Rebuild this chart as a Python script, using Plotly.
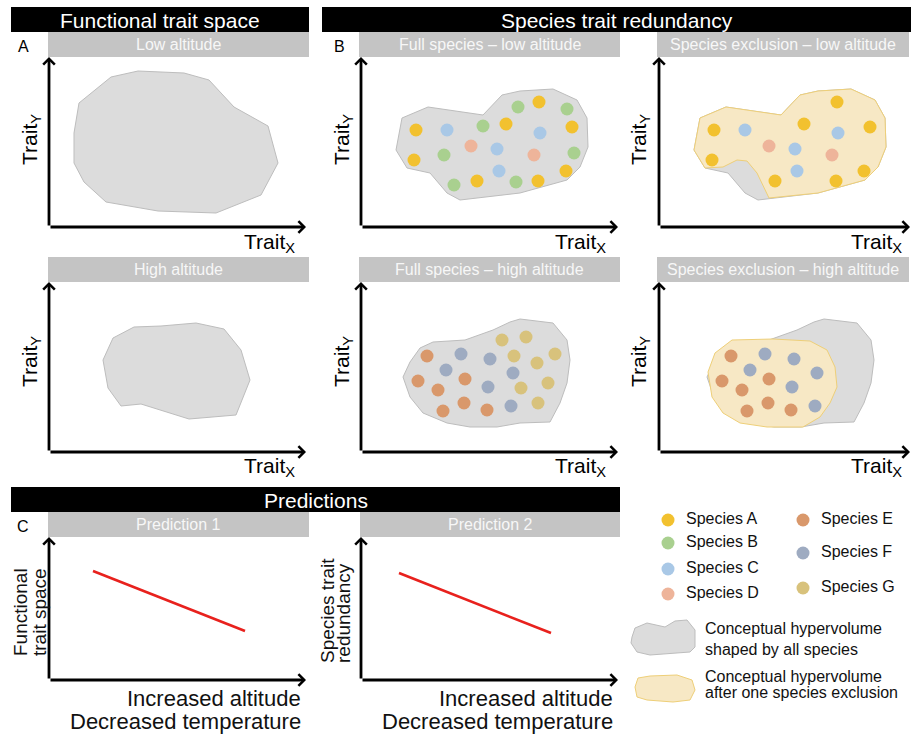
import plotly.graph_objects as go

FIG_W, FIG_H = 913, 737
FONT = "Arial, 'Liberation Sans', Helvetica, sans-serif"

# ---------------- data (trait-space units) ----------------
# Functional trait space hulls (panel A)
hull_A_low_x = [30, 62, 89, 135, 160, 185, 219, 229, 212, 192, 167, 109, 57, 35, 25, 25, 30]
hull_A_low_y = [124, 150, 156, 154, 147, 120, 101, 64, 32, 24, 14, 16, 25, 45, 64, 94, 124]
hull_A_high_x = [54, 64, 85, 112, 147, 175, 192, 201, 187, 140, 92, 72, 59, 54]
hull_A_high_y = [92, 114, 125, 126, 129, 123, 102, 72, 37, 33, 48, 46, 64, 92]

# Hypervolumes shaped by all species (panel B)
hull_low_x = [41, 67, 122, 141, 159, 192, 216, 226, 227, 219, 206, 159, 99, 86, 69, 46, 35, 41]
hull_low_y = [109, 120, 112, 132, 136, 138, 127, 109, 80, 60, 47, 34, 27, 34, 54, 59, 77, 109]
hull_high_x = [59, 72, 104, 132, 149, 159, 192, 206, 209, 206, 199, 189, 159, 136, 109, 86, 62, 49, 42, 49, 59]
hull_high_y = [104, 110, 112, 122, 130, 133, 129, 112, 92, 69, 49, 30, 29, 25, 25, 29, 39, 55, 75, 90, 104]

# Hypervolumes after one species exclusion
excl_low_x = [35, 41, 67, 122, 141, 159, 192, 216, 226, 227, 219, 206, 159, 110, 98, 88, 78, 64, 46, 35]
excl_low_y = [77, 109, 120, 112, 132, 136, 138, 127, 109, 80, 60, 47, 34, 29, 54, 66, 67, 60, 59, 77]
excl_high_x = [43, 50, 67, 108, 145, 162, 170, 172, 165, 155, 138, 102, 75, 58, 47, 43]
excl_high_y = [80, 99, 112, 113, 111, 102, 85, 65, 49, 35, 25, 25, 29, 39, 55, 80]

# Species positions - low altitude community
spA_x = [55, 53, 145, 178, 211, 116, 177, 205]
spA_y = [97, 67, 103, 125, 100, 46, 46, 56]
spB_x = [122, 157, 206, 83, 93, 155, 213]
spB_y = [101, 120, 118, 72, 42, 45, 74]
spC_x = [86, 179, 136, 138]
spC_y = [97, 94, 78, 56]
spD_x = [110, 173]
spD_y = [81, 72]
# Species positions - high altitude community
spE_x = [66, 57, 77, 104, 82, 103, 126]
spE_y = [96, 71, 62, 73, 41, 49, 42]
spF_x = [100, 85, 129, 152, 127, 150]
spF_y = [98, 82, 93, 79, 65, 46]
spG_x = [141, 165, 153, 176, 194, 160, 187, 177]
spG_y = [112, 115, 96, 89, 98, 64, 69, 49]

# Predictions (altitude vs response)
pred1_x = [44, 196]
pred1_y = [109, 49]
pred2_x = [38, 190]
pred2_y = [107, 47]

species_names = ["Species A", "Species B", "Species C", "Species D", "Species E", "Species F", "Species G"]
species_colors = ["#f2c12f", "#a9d08f", "#a9c8e6", "#eeb49a", "#d9986b", "#9eabc1", "#d8c27c"]

# Legend placement (legend-area units)
leg_dot_x = [48, 48, 48, 48, 183, 183, 183]
leg_dot_y = [20, 43, 69, 94, 20, 53, 88]
leg_gray_x = [12, 15, 27, 45, 55, 67, 75, 75, 70, 57, 30, 17, 11, 12]
leg_gray_y = [137, 128, 123, 127, 121, 120, 130, 147, 152, 153, 155, 152, 143, 137]
leg_yel_x = [15, 18, 30, 57, 72, 75, 70, 53, 27, 17, 15]
leg_yel_y = [187, 178, 176, 175, 180, 190, 200, 202, 200, 197, 187]
leg_text = ["Conceptual hypervolume", "shaped by all species",
            "Conceptual hypervolume", "after one species exclusion"]
leg_text_x = [85, 85, 85, 85]
leg_text_y = [130, 151, 178, 194]

GRAY_FILL, GRAY_LINE = "#dcdcdc", "#bdbdbd"
YEL_FILL, YEL_LINE = "#f7e8c5", "#eecf78"
BAR_GRAY = "#c4c4c4"

# ---------------- layout helpers ----------------
def px(x):
    return x / FIG_W

def py(y):
    return 1 - y / FIG_H

# name: (left px, right px, bottom px, top px, x shift)
panels = {
    "A_low": (49, 306, 227, 57, 0),
    "A_high": (49, 306, 452, 282, 0),
    "B_full_low": (361, 618, 227, 57, 0),
    "B_excl_low": (659, 910, 227, 57, 0),
    "B_full_high": (361, 618, 452, 282, 0),
    "B_excl_high": (659, 910, 452, 282, -6),
    "P1": (49, 306, 680, 537, 0),
    "P2": (361, 618, 680, 537, 0),
    "legend": (620, 913, 737, 500, 0),
}

fig = go.Figure()
ax = {}
annotations = []
shapes = []
layout_axes = {}
for i, (name, (x0, x1, yb, yt, xs)) in enumerate(panels.items(), start=1):
    s = "" if i == 1 else str(i)
    xr = [xs, xs + (x1 - x0)]
    yr = [0, yb - yt]
    if name == "legend":
        yr = [yb - yt, 0]
    layout_axes[f"xaxis{s}"] = dict(domain=[px(x0), px(x1)], range=xr, visible=False,
                                    fixedrange=True, anchor=f"y{s}")
    layout_axes[f"yaxis{s}"] = dict(domain=[py(yb), py(yt)], range=yr, visible=False,
                                    fixedrange=True, anchor=f"x{s}")
    ax[name] = (f"x{s}", f"y{s}", xr, yr)
    if name != "legend":
        xa, ya = f"x{s}", f"y{s}"
        for (tx, ty) in [(xr[1], 0), (xr[0], yr[1])]:
            annotations.append(dict(x=tx, y=ty, ax=xr[0], ay=0, xref=xa, yref=ya,
                                    axref=xa, ayref=ya, showarrow=True, arrowhead=4,
                                    arrowsize=0.8, arrowwidth=2.8, arrowcolor="black",
                                    text=""))


def poly(name, xs, ys, fill, line):
    xa, ya, _, _ = ax[name]
    fig.add_trace(go.Scatter(x=xs, y=ys, xaxis=xa, yaxis=ya, mode="lines", fill="toself",
                             fillcolor=fill, line=dict(color=line, width=1),
                             hoverinfo="skip"))


def dots(name, xs, ys, color):
    xa, ya, _, _ = ax[name]
    fig.add_trace(go.Scatter(x=xs, y=ys, xaxis=xa, yaxis=ya, mode="markers",
                             marker=dict(size=13, color=color, line=dict(width=0)),
                             hoverinfo="skip"))


def label(x, y, text, size, color="black", angle=0, xanchor="center"):
    annotations.append(dict(x=px(x), y=py(y), xref="paper", yref="paper", text=text,
                            textangle=angle, showarrow=False, xanchor=xanchor, yanchor="middle",
                            font=dict(size=size, color=color, family=FONT)))


# Panel A
poly("A_low", hull_A_low_x, hull_A_low_y, GRAY_FILL, GRAY_LINE)
poly("A_high", hull_A_high_x, hull_A_high_y, GRAY_FILL, GRAY_LINE)

# Panel B full species
poly("B_full_low", hull_low_x, hull_low_y, GRAY_FILL, GRAY_LINE)
for xs_, ys_, c in [(spA_x, spA_y, species_colors[0]), (spB_x, spB_y, species_colors[1]),
                    (spC_x, spC_y, species_colors[2]), (spD_x, spD_y, species_colors[3])]:
    dots("B_full_low", xs_, ys_, c)
poly("B_full_high", hull_high_x, hull_high_y, GRAY_FILL, GRAY_LINE)
for xs_, ys_, c in [(spE_x, spE_y, species_colors[4]), (spF_x, spF_y, species_colors[5]),
                    (spG_x, spG_y, species_colors[6])]:
    dots("B_full_high", xs_, ys_, c)

# Panel B exclusion (species B removed at low, species G removed at high)
poly("B_excl_low", hull_low_x, hull_low_y, GRAY_FILL, GRAY_LINE)
poly("B_excl_low", excl_low_x, excl_low_y, YEL_FILL, YEL_LINE)
for xs_, ys_, c in [(spA_x, spA_y, species_colors[0]), (spC_x, spC_y, species_colors[2]),
                    (spD_x, spD_y, species_colors[3])]:
    dots("B_excl_low", xs_, ys_, c)
poly("B_excl_high", hull_high_x, hull_high_y, GRAY_FILL, GRAY_LINE)
poly("B_excl_high", excl_high_x, excl_high_y, YEL_FILL, YEL_LINE)
for xs_, ys_, c in [(spE_x, spE_y, species_colors[4]), (spF_x, spF_y, species_colors[5])]:
    dots("B_excl_high", xs_, ys_, c)

# Predictions
for name, xs_, ys_ in [("P1", pred1_x, pred1_y), ("P2", pred2_x, pred2_y)]:
    xa, ya, _, _ = ax[name]
    fig.add_trace(go.Scatter(x=xs_, y=ys_, xaxis=xa, yaxis=ya, mode="lines",
                             line=dict(color="#e8211d", width=2.6), hoverinfo="skip"))

# Legend
xa, ya, _, _ = ax["legend"]
fig.add_trace(go.Scatter(x=leg_dot_x, y=leg_dot_y, xaxis=xa, yaxis=ya, mode="markers",
                         marker=dict(size=13, color=species_colors), hoverinfo="skip"))
fig.add_trace(go.Scatter(x=[v + 18 for v in leg_dot_x], y=leg_dot_y, xaxis=xa, yaxis=ya,
                         mode="text", text=species_names, textposition="middle right",
                         textfont=dict(size=16, color="#111", family=FONT), hoverinfo="skip"))
poly("legend", leg_gray_x, leg_gray_y, GRAY_FILL, GRAY_LINE)
poly("legend", leg_yel_x, leg_yel_y, YEL_FILL, YEL_LINE)
fig.add_trace(go.Scatter(x=leg_text_x, y=leg_text_y, xaxis=xa, yaxis=ya, mode="text",
                         text=leg_text, textposition="middle right",
                         textfont=dict(size=16, color="#111", family=FONT), hoverinfo="skip"))

# ---------------- header bars and labels ----------------
headers = [((11, 7, 309, 32), "Functional trait space"),
           ((322, 7, 911, 32), "Species trait redundancy"),
           ((11, 487, 620, 512), "Predictions")]
for (x0, y0, x1, y1), t in headers:
    shapes.append(dict(type="rect", xref="paper", yref="paper", x0=px(x0), x1=px(x1),
                       y0=py(y1), y1=py(y0), fillcolor="black", line=dict(width=0), layer="below"))
    label((x0 + x1) / 2, (y0 + y1) / 2 + 1, t, 21, "white")

subbars = [((48, 32, 309, 57), "Low altitude"),
           ((359, 32, 620, 57), "Full species – low altitude"),
           ((657, 32, 909, 57), "Species exclusion – low altitude"),
           ((48, 257, 309, 282), "High altitude"),
           ((359, 257, 620, 282), "Full species – high altitude"),
           ((657, 257, 909, 282), "Species exclusion – high altitude"),
           ((48, 512, 309, 537), "Prediction 1"),
           ((360, 512, 620, 537), "Prediction 2")]
for (x0, y0, x1, y1), t in subbars:
    shapes.append(dict(type="rect", xref="paper", yref="paper", x0=px(x0), x1=px(x1),
                       y0=py(y1), y1=py(y0), fillcolor=BAR_GRAY, line=dict(width=0), layer="below"))
    label((x0 + x1) / 2, (y0 + y1) / 2, t, 16, "#f7f7f7")

for t, x, y in [("A", 23, 46), ("B", 339, 46), ("C", 23, 526)]:
    label(x, y, t, 16)

# Trait axis labels
for x, y in [(31, 140), (343, 140), (640, 140), (31, 362), (343, 362), (640, 362)]:
    label(x, y, "Trait<sub>Y</sub>", 21, angle=-90)
for x, y in [(297, 243), (608, 243), (904, 243), (297, 467), (608, 467), (904, 467)]:
    label(x, y, "Trait<sub>X</sub>", 21, xanchor="right")

# Prediction axis labels
label(20, 612, "Functional", 19, "#111", angle=-90)
label(39, 612, "trait space", 19, "#111", angle=-90)
label(327, 611, "Species trait", 19, "#111", angle=-90)
label(343, 613, "redundancy", 19, "#111", angle=-90)
for xr_ in [303, 615]:
    label(xr_, 698, "Increased altitude", 22, "#111", xanchor="right")
    label(xr_, 721, "Decreased temperature", 22, "#111", xanchor="right")

fig.update_layout(width=FIG_W, height=FIG_H, margin=dict(l=0, r=0, t=0, b=0),
                  paper_bgcolor="white", plot_bgcolor="white", showlegend=False,
                  annotations=annotations, shapes=shapes, font=dict(family=FONT),
                  **layout_axes)

fig.write_html("out.html", config={"displayModeBar": False},
               post_script="document.body.style.margin='0px';")
